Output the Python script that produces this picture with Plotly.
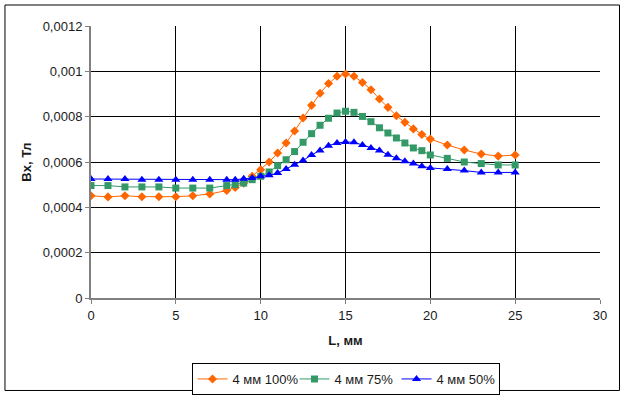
import plotly.graph_objects as go

x_vals = [0, 1, 2, 3, 4, 5, 6, 7, 8, 8.5, 9, 9.5, 10, 10.5, 11, 11.5, 12, 12.5, 13, 13.5,
          14, 14.5, 15, 15.5, 16, 16.5, 17, 17.5, 18, 18.5, 19, 19.5, 20, 21, 22, 23, 24, 25]

s100 = [0.000451, 0.000446, 0.000451, 0.000447, 0.000447, 0.000447, 0.000451, 0.000459,
        0.000474, 0.000488, 0.000507, 0.000537, 0.000566, 0.000600, 0.000640, 0.000684,
        0.000737, 0.000794, 0.000850, 0.000903, 0.000946, 0.000978, 0.000988, 0.000978,
        0.000951, 0.000919, 0.000878, 0.000841, 0.000804, 0.000775, 0.000746, 0.000721,
        0.000701, 0.000675, 0.000653, 0.000635, 0.000626, 0.000631]

s75 = [0.000496, 0.000496, 0.000490, 0.000490, 0.000490, 0.000485, 0.000485, 0.000485,
       0.000496, 0.000500, 0.000507, 0.000522, 0.000537, 0.000556, 0.000584, 0.000610,
       0.000646, 0.000687, 0.000725, 0.000762, 0.000793, 0.000816, 0.000824, 0.000819,
       0.000801, 0.000778, 0.000751, 0.000728, 0.000706, 0.000684, 0.000662, 0.000650,
       0.000631, 0.000616, 0.000600, 0.000593, 0.000587, 0.000587]

s50 = [0.000525, 0.000525, 0.000525, 0.000522, 0.000522, 0.000522, 0.000522, 0.000522,
       0.000522, 0.000522, 0.000526, 0.000529, 0.000537, 0.000541, 0.000551, 0.000569,
       0.000588, 0.000607, 0.000631, 0.000651, 0.000672, 0.000684, 0.000688, 0.000687,
       0.000675, 0.000662, 0.000651, 0.000632, 0.000616, 0.000603, 0.000593, 0.000581,
       0.000574, 0.000569, 0.000562, 0.000554, 0.000554, 0.000554]

series_names = ["4 мм 100%", "4 мм 75%", "4 мм 50%"]

y_tick_vals = [0, 0.0002, 0.0004, 0.0006, 0.0008, 0.001, 0.0012]
y_tick_text = ["0", "0,0002", "0,0004", "0,0006", "0,0008", "0,001", "0,0012"]
x_tick_vals = [0, 5, 10, 15, 20, 25, 30]

FONT = "Liberation Sans, Arial, sans-serif"

fig = go.Figure()
fig.add_trace(go.Scatter(x=x_vals, y=s100, name=series_names[0], mode="lines+markers",
                         line=dict(color="#FF6600", width=1),
                         marker=dict(symbol="diamond", size=7, color="#FF6600")))
fig.add_trace(go.Scatter(x=x_vals, y=s75, name=series_names[1], mode="lines+markers",
                         line=dict(color="#339966", width=1),
                         marker=dict(symbol="square", size=7, color="#339966")))
fig.add_trace(go.Scatter(x=x_vals, y=s50, name=series_names[2], mode="lines+markers",
                         line=dict(color="#0000FF", width=1),
                         marker=dict(symbol="triangle-up", size=8, color="#0000FF")))

fig.update_layout(
    width=626, height=397,
    margin=dict(l=91, r=26, t=26, b=99, autoexpand=False),
    paper_bgcolor="white", plot_bgcolor="white",
    font=dict(family=FONT, size=13, color="#1a1a1a"),
    showlegend=True,
    legend=dict(orientation="h", x=0.5, xanchor="center",
                yref="container", y=1 - 363 / 397, yanchor="top",
                bordercolor="black", borderwidth=1, font=dict(size=13),
                itemwidth=30, tracegroupgap=0, entrywidth=57, entrywidthmode="pixels"),
    shapes=[dict(type="rect", xref="paper", yref="paper",
                 x0=-0.169, x1=1.0383, y0=-0.340, y1=1.0772,
                 line=dict(color="black", width=1), layer="below")],
)
fig.update_xaxes(range=[0, 30], tickvals=x_tick_vals, showgrid=True, gridcolor="black",
                 gridwidth=1, showline=True, linecolor="#808080", linewidth=2,
                 ticks="outside", ticklen=4, tickcolor="#808080", zeroline=False,
                 title=dict(text="<b>L, мм</b>", font=dict(size=13), standoff=14))
fig.update_yaxes(range=[0, 0.0012], tickvals=y_tick_vals, ticktext=y_tick_text,
                 showgrid=True, gridcolor="black", gridwidth=1, showline=True,
                 linecolor="#808080", linewidth=2, ticks="outside", ticklen=4,
                 tickcolor="#808080", zeroline=False,
                 title=dict(text="<b>Bx, Тл</b>", font=dict(size=13), standoff=8))

fig.write_html("out.html", config={"displayModeBar": False},
               post_script="document.body.style.margin='0';document.body.style.padding='0';")
